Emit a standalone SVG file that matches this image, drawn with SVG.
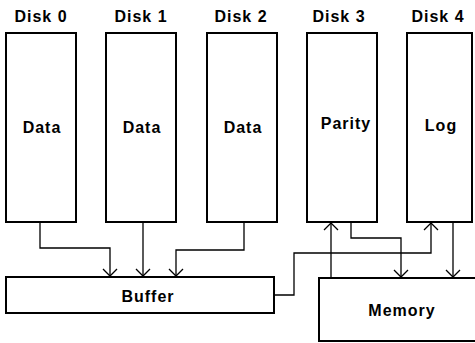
<svg xmlns="http://www.w3.org/2000/svg" width="475" height="343" viewBox="0 0 475 343">
<defs>
<marker id="arr" viewBox="0 0 9 16" refX="8.5" refY="8" markerWidth="9" markerHeight="16" markerUnits="userSpaceOnUse" orient="auto">
<path d="M1.5,1 L8.5,8 L1.5,15" fill="none" stroke="#000" stroke-width="1.3"/>
</marker>
<style>
.box{fill:#fff;stroke:#000;stroke-width:2}
.lbl{font-family:"Liberation Sans",Arial,sans-serif;font-size:16px;font-weight:bold;letter-spacing:1px;text-anchor:middle;fill:#000}
.c{fill:none;stroke:#000;stroke-width:1.3}
</style>
</defs>
<rect width="475" height="343" fill="#fff"/>
<g id="connectors">
<path class="c" d="M40,222 V248 H110 V276" marker-end="url(#arr)"/>
<path class="c" d="M143,222 V276" marker-end="url(#arr)"/>
<path class="c" d="M244,222 V250 H176 V276" marker-end="url(#arr)"/>
<path class="c" d="M274,295 H294 V253 H431 V223" marker-end="url(#arr)"/>
<path class="c" d="M331,278 V223" marker-end="url(#arr)"/>
<path class="c" d="M351,222 V238 H401 V277" marker-end="url(#arr)"/>
<path class="c" d="M453,222 V277" marker-end="url(#arr)"/>
</g>
<g id="disk0"><text class="lbl" x="41" y="22">Disk 0</text><rect class="box" x="6" y="33" width="70" height="189"/><text class="lbl" x="42" y="133">Data</text></g>
<g id="disk1"><text class="lbl" x="141" y="22">Disk 1</text><rect class="box" x="106" y="33" width="70" height="189"/><text class="lbl" x="142" y="133">Data</text></g>
<g id="disk2"><text class="lbl" x="241" y="22">Disk 2</text><rect class="box" x="207" y="33" width="70" height="189"/><text class="lbl" x="243" y="133">Data</text></g>
<g id="disk3"><text class="lbl" x="339" y="22">Disk 3</text><rect class="box" x="307" y="33" width="70" height="189"/><text class="lbl" x="346" y="129">Parity</text></g>
<g id="disk4"><text class="lbl" x="438" y="22">Disk 4</text><rect class="box" x="407" y="33" width="65" height="189"/><text class="lbl" x="441" y="131">Log</text></g>
<g id="buffer"><rect class="box" x="6" y="277" width="268" height="36"/><text class="lbl" x="148" y="302">Buffer</text></g>
<g id="memory"><rect class="box" x="319" y="278" width="160" height="63"/><text class="lbl" x="402" y="316">Memory</text></g>
</svg>
